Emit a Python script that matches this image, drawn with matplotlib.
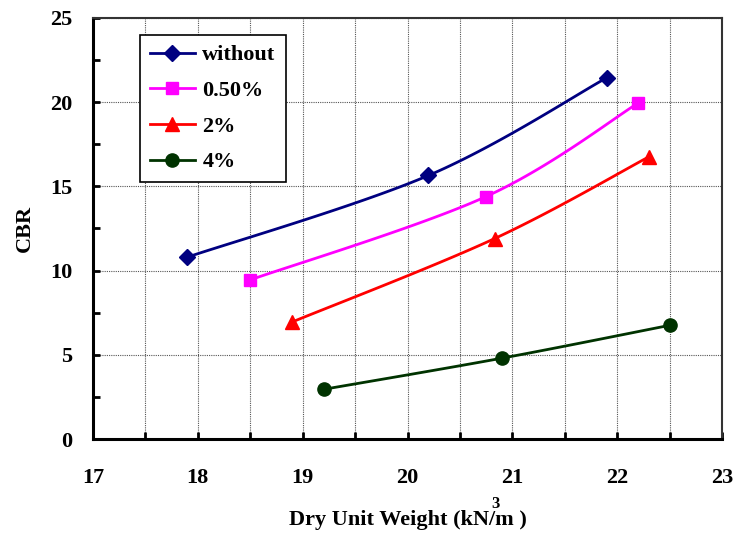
import numpy as np
import matplotlib
matplotlib.use("Agg")
import matplotlib.pyplot as plt
from matplotlib.ticker import MultipleLocator

plt.rcParams["font.family"] = ["Liberation Serif", "DejaVu Serif"]
plt.rcParams["font.weight"] = "bold"

# ── data ──────────────────────────────────────────────────────────────────────
labels = ["without", "0.50%", "2%", "4%"]
x_without = [17.9, 20.2, 21.9]
y_without = [10.8, 15.65, 21.45]
x_050 = [18.5, 20.75, 22.2]
y_050 = [9.45, 14.4, 19.95]
x_2 = [18.9, 20.83, 22.3]
y_2 = [6.95, 11.9, 16.75]
x_4 = [19.2, 20.9, 22.5]
y_4 = [2.95, 4.8, 6.75]

series = [(x_without, y_without), (x_050, y_050), (x_2, y_2), (x_4, y_4)]
colors = ["#000080", "#FF00FF", "#FF0000", "#003300"]
markers = ["D", "s", "^", "o"]
msizes = [8, 9, 10, 9.5]


def smooth(xs, ys, n=40):
    # Excel-style smoothed line: cubic Bezier through the points
    p = np.column_stack([xs, ys]).astype(float)
    ext = np.vstack([p[0], p, p[-1]])
    out = []
    t = np.linspace(0, 1, n)[:, None]
    for i in range(len(p) - 1):
        p0, p3 = ext[i + 1], ext[i + 2]
        c1 = p0 + (ext[i + 2] - ext[i]) / 6
        c2 = p3 - (ext[i + 3] - ext[i + 1]) / 6
        seg = ((1 - t) ** 3) * p0 + 3 * ((1 - t) ** 2) * t * c1 \
            + 3 * (1 - t) * t ** 2 * c2 + t ** 3 * p3
        out.append(seg)
    out = np.vstack(out)
    return out[:, 0], out[:, 1]


fig = plt.figure(figsize=(7.37, 5.34), dpi=100)
ax = fig.add_axes([0.1262, 0.1779, 0.8535, 0.7884])

for (xs, ys), c, m, ms, lab in zip(series, colors, markers, msizes, labels):
    sx, sy = smooth(xs, ys)
    ax.plot(sx, sy, color=c, lw=2, zorder=3)
    ax.plot(xs, ys, ls="none", marker=m, ms=ms, color=c, mec=c, zorder=4)
    ax.plot([], [], color=c, lw=2, marker=m, ms=ms, mec=c, label=lab)

ax.set_xlim(17, 23)
ax.set_ylim(0, 25)
ax.xaxis.set_major_locator(MultipleLocator(1))
ax.xaxis.set_minor_locator(MultipleLocator(0.5))
ax.yaxis.set_major_locator(MultipleLocator(5))
ax.yaxis.set_minor_locator(MultipleLocator(2.5))

ax.grid(which="both", axis="x", color="#555555", ls=(0, (1, 1)), lw=0.8)
ax.grid(which="major", axis="y", color="#555555", ls=(0, (1, 1)), lw=0.8)
ax.set_axisbelow(True)

ax.tick_params(which="both", direction="in", length=5, width=2, color="black")
ax.tick_params(axis="x", which="both", top=False, pad=21, labelsize=16)
ax.tick_params(axis="y", which="both", right=False, pad=15, labelsize=16)
for lbl in ax.get_xticklabels() + ax.get_yticklabels():
    lbl.set_fontweight("bold")

ax.spines["left"].set_linewidth(2.2)
ax.spines["bottom"].set_linewidth(2.2)
ax.spines["top"].set_linewidth(1.5)
ax.spines["right"].set_linewidth(1.5)
ax.spines["top"].set_color("#333333")
ax.spines["right"].set_color("#333333")

ax.set_ylabel("CBR", fontsize=16, fontweight="bold", labelpad=11)
fig.text(0.553, 0.008, "Dry Unit Weight (kN/m )", fontsize=16,
         fontweight="bold", ha="center", va="bottom")
fig.text(0.672, 0.056, "3", fontsize=12, fontweight="bold",
         ha="center", va="center")

leg = ax.legend(loc="upper left", bbox_to_anchor=(0.075, 0.96),
                borderaxespad=0, fontsize=16, handlelength=2.0,
                labelspacing=0.68, handletextpad=0.35, borderpad=0.45,
                fancybox=False, edgecolor="black", framealpha=1)
leg.get_frame().set_linewidth(1.2)
for t in leg.get_texts():
    t.set_fontweight("bold")

fig.savefig("out.png", dpi=100)
